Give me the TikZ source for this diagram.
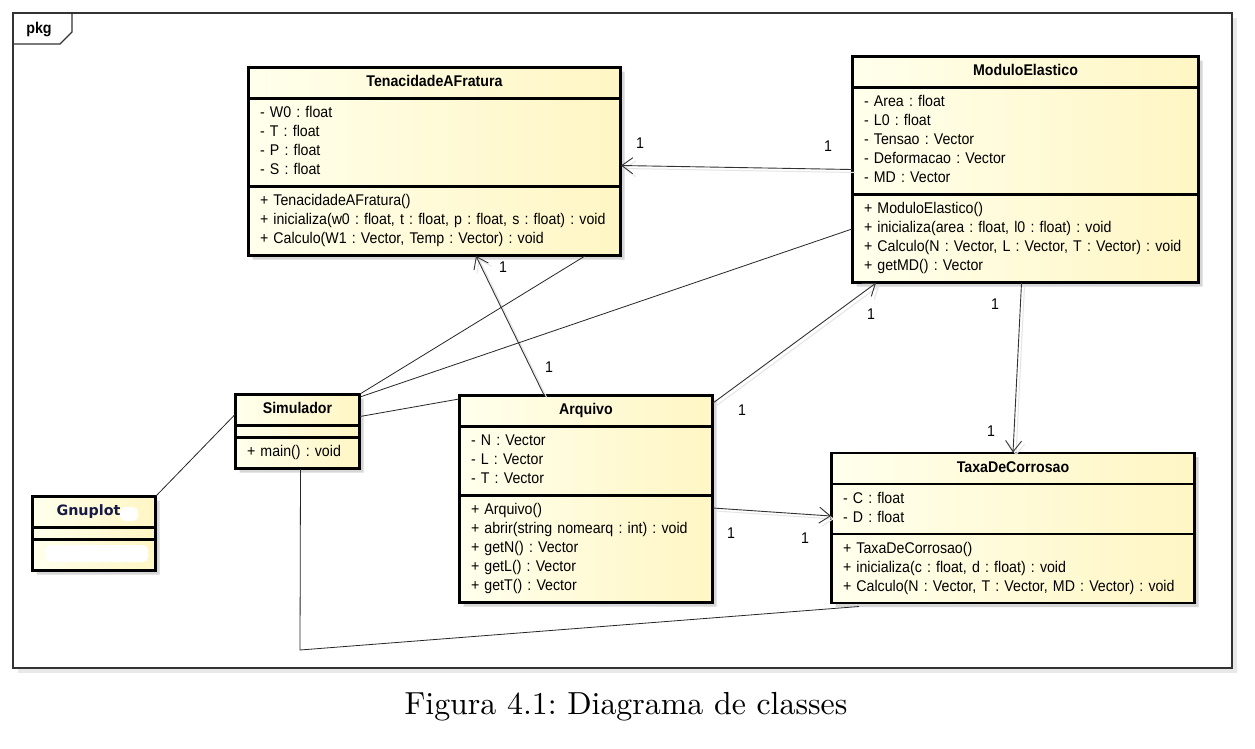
\documentclass[tikz,border=0pt]{standalone}
\usepackage{fontspec}
\usetikzlibrary{shapes.multipart,shadows,arrows.meta}
\newfontfamily\umlfont[FakeStretch=0.915]{Liberation Sans}
\newfontfamily\gnufont{DejaVu Sans}
\newfontfamily\capfont{lmroman10-regular.otf}
\definecolor{classpale}{RGB}{255,255,236}
\definecolor{classyellow}{RGB}{255,246,196}
\definecolor{gnublue}{RGB}{22,24,70}
\newcommand{\classname}[1]{\hbox to\hsize{\hfil\strut\textbf{#1}\hfil}}
\frenchspacing
\begin{document}
\begin{tikzpicture}[x=1pt,y=-1pt,
 class node/.style={rectangle split,rectangle split parts=3,rectangle split ignore empty parts=false,
   rectangle split empty part height=1pt,rectangle split empty part depth=0pt,
   anchor=north west,draw=black!85,line width=1pt,left color=classpale,right color=classyellow,
   postaction={draw=black,line width=2.4pt},
   drop shadow={shadow xshift=4pt,shadow yshift=-4pt,fill=black!16,opacity=1},
   inner xsep=11.5pt,inner ysep=5.5pt,align=left,font=\umlfont\fontsize{15.5}{19}\selectfont},
 mult node/.style={font=\umlfont\fontsize{15.5}{19}\selectfont,inner sep=0pt},
 assoc/.style={draw=black!80,line width=0.9pt,-{Straight Barb[length=11pt,width=16pt]},
   preaction={draw=black!10,line width=1pt,transform canvas={shift={(3pt,-3pt)}}}},
 link/.style={draw=black!85,line width=0.8pt},
 pkg frame/.style={draw=black!80,line width=1.3pt,fill=white,
   drop shadow={shadow xshift=5pt,shadow yshift=-5pt,fill=black!9,opacity=1}},
 blot/.style={fill=white,rounded corners=5pt}]
\path[use as bounding box,fill=white] (0,0) rectangle (1255,748);

% package frame
\draw[pkg frame] (13,13) rectangle (1232,668);
\draw[draw=black!80,line width=1.1pt] (72,13) -- (72,32) -- (60,44) -- (13,44);
\node[mult node,font=\umlfont\bfseries\fontsize{15.6}{19}\selectfont] (pkg) at (39,29) {pkg};

% classes
\node[class node,text width=349pt] (ten) at (248,67) {\classname{TenacidadeAFratura}
 \nodepart{second}\strut - W0 : float\\ - T : float\\ - P : float\\ - S : float\strut
 \nodepart{third}\strut + TenacidadeAFratura()\\ + inicializa(w0 : float, t : float, p : float, s : float) : void\\
 + Calculo(W1 : Vector, Temp : Vector) : void\strut};
\node[class node,text width=323pt] (mod) at (852,56) {\classname{ModuloElastico}
 \nodepart{second}\strut - Area : float\\ - L0 : float\\ - Tensao : Vector\\ - Deformacao : Vector\\ - MD : Vector\strut
 \nodepart{third}\strut + ModuloElastico()\\ + inicializa(area : float, l0 : float) : void\\
 + Calculo(N : Vector, L : Vector, T : Vector) : void\\ + getMD() : Vector\strut};
\node[class node,text width=101pt,minimum height=74pt] (sim) at (235,394) {\classname{Simulador}
 \nodepart{second}
 \nodepart{third}\strut + main() : void\strut};
\node[class node,text width=230pt] (arq) at (459,395) {\classname{Arquivo}
 \nodepart{second}\strut - N : Vector\\ - L : Vector\\ - T : Vector\strut
 \nodepart{third}\strut + Arquivo()\\ + abrir(string nomearq : int) : void\\ + getN() : Vector\\
 + getL() : Vector\\ + getT() : Vector\strut};
\node[class node,text width=340pt] (taxa) at (831,452.5) {\classname{TaxaDeCorrosao}
 \nodepart{second}\strut - C : float\\ - D : float\strut
 \nodepart{third}\strut + TaxaDeCorrosao()\\ + inicializa(c : float, d : float) : void\\
 + Calculo(N : Vector, T : Vector, MD : Vector) : void\strut};
\node[class node,text width=100pt,minimum height=73pt] (gnu) at (32,496) {\hbox to\hsize{\hfil\strut
 {\gnufont\bfseries\fontsize{14.3}{19}\selectfont\color{gnublue}Gnuplot}\hspace*{11pt}\hfil}
 \nodepart{second}
 \nodepart{third}\strut};
\fill[blot] (120,507) rectangle (138,521);
\fill[blot] (45,545) rectangle (148,562);

% associations
\path[every edge/.style={assoc}]
 (mod.west) edge ([yshift=-4pt]ten.east)
 ([xshift=-42pt]arq.north) edge ([xshift=41.5pt]ten.south)
 ([yshift=-8pt]arq.north east) edge ([xshift=24pt]mod.south west)
 ([xshift=-4pt]mod.south) edge (taxa.north)
 ([yshift=-9pt]arq.east) edge ([yshift=12pt]taxa.west);

\path[every edge/.style={link}]
 (sim.north east) edge ([xshift=-36pt]ten.south east)
 ([yshift=-3pt]sim.north east) edge ([yshift=-59.5pt]mod.west)
 ([yshift=15pt]sim.east) edge ([yshift=-4pt]arq.north west)
 (gnu.north east) edge ([yshift=17pt]sim.west);
\coordinate (bend) at (300,650);
\draw[link] ([xshift=3pt]sim.south) -- (bend) -- ([xshift=28pt,yshift=-3pt]taxa.south west);

% multiplicities
\node[mult node] (m1) at (640,143) {1};
\node[mult node] (m2) at (828,146) {1};
\node[mult node] (m3) at (503,267) {1};
\node[mult node] (m4) at (549,367) {1};
\node[mult node] (m5) at (871,314) {1};
\node[mult node] (m6) at (742,410) {1};
\node[mult node] (m7) at (995,304) {1};
\node[mult node] (m8) at (991,431) {1};
\node[mult node] (m9) at (731,533) {1};
\node[mult node] (m10) at (805,538) {1};

\node[font=\capfont\fontsize{31.9}{36}\selectfont,anchor=base] (cap) at (626,714) {Figura 4.1: Diagrama de classes};
\end{tikzpicture}
\end{document}
